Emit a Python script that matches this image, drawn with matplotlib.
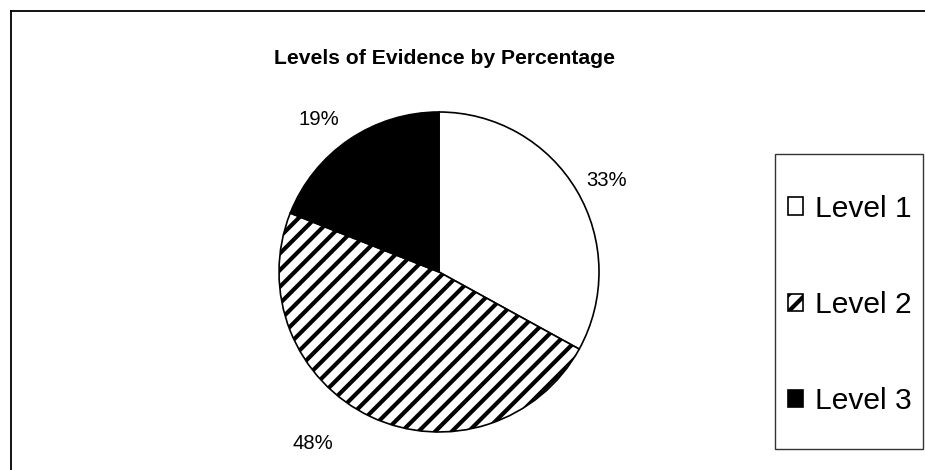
import matplotlib
matplotlib.use("Agg")
import matplotlib.pyplot as plt
from matplotlib.patches import Rectangle, Patch
from matplotlib.lines import Line2D
import numpy as np

plt.rcParams['font.family'] = ['Liberation Sans', 'DejaVu Sans']
plt.rcParams['hatch.linewidth'] = 3.0

title = "Levels of Evidence by Percentage"
categories = ["Level 1", "Level 2", "Level 3"]
values = [33, 48, 19]
pct_labels = ["33%", "48%", "19%"]
facecolors = ["white", "white", "black"]
hatches = ["", "//", ""]

W, H = 925, 470
fig = plt.figure(figsize=(W / 100, H / 100), dpi=100)

# outer chart border (top and left visible)
fig.add_artist(Line2D([11 / W, 1], [1 - 11 / H, 1 - 11 / H], color="black", lw=1.3, transform=fig.transFigure))
fig.add_artist(Line2D([11 / W, 11 / W], [0, 1 - 11 / H], color="black", lw=1.3, transform=fig.transFigure))

cx, cy, r = 439, 272, 160
ax = fig.add_axes([(cx - r) / W, (H - cy - r) / H, 2 * r / W, 2 * r / H])
wedges, _ = ax.pie(values, startangle=90, counterclock=False, colors=facecolors,
                   wedgeprops=dict(edgecolor="black", linewidth=1.2))
for w, h in zip(wedges, hatches):
    w.set_hatch(h)
ax.set_xlim(-1, 1)
ax.set_ylim(-1, 1)
ax.set_aspect("equal")
ax.axis("off")

# percentage labels placed outside the wedges
label_dist = [1.19, 1.33, 1.21]
angle_shift = [-2, -11, 4]
for w, lab, d, s in zip(wedges, pct_labels, label_dist, angle_shift):
    ang = np.deg2rad((w.theta1 + w.theta2) / 2 + s)
    ax.text(d * np.cos(ang), d * np.sin(ang), lab, ha="center", va="center",
            fontsize=14.6, clip_on=False)

fig.text(444 / W, 1 - 59 / H, title, ha="center", va="center", fontsize=15.2, fontweight="bold")

# legend frame
fig.add_artist(Rectangle((775 / W, 1 - 449 / H), (923 - 775) / W, (449 - 154) / H,
                         transform=fig.transFigure, fill=False, edgecolor="#333333", lw=1.0))
handles = [Patch(facecolor=fc, edgecolor="black", hatch=h, linewidth=1.2)
           for fc, h in zip(facecolors, hatches)]
leg = fig.legend(handles, categories, loc="center", bbox_to_anchor=(850 / W, 1 - 305 / H),
                 frameon=False, fontsize=21.6, handlelength=0.5, handleheight=0.5,
                 handletextpad=0.42, labelspacing=2.28)

fig.savefig("out.png", dpi=100)
